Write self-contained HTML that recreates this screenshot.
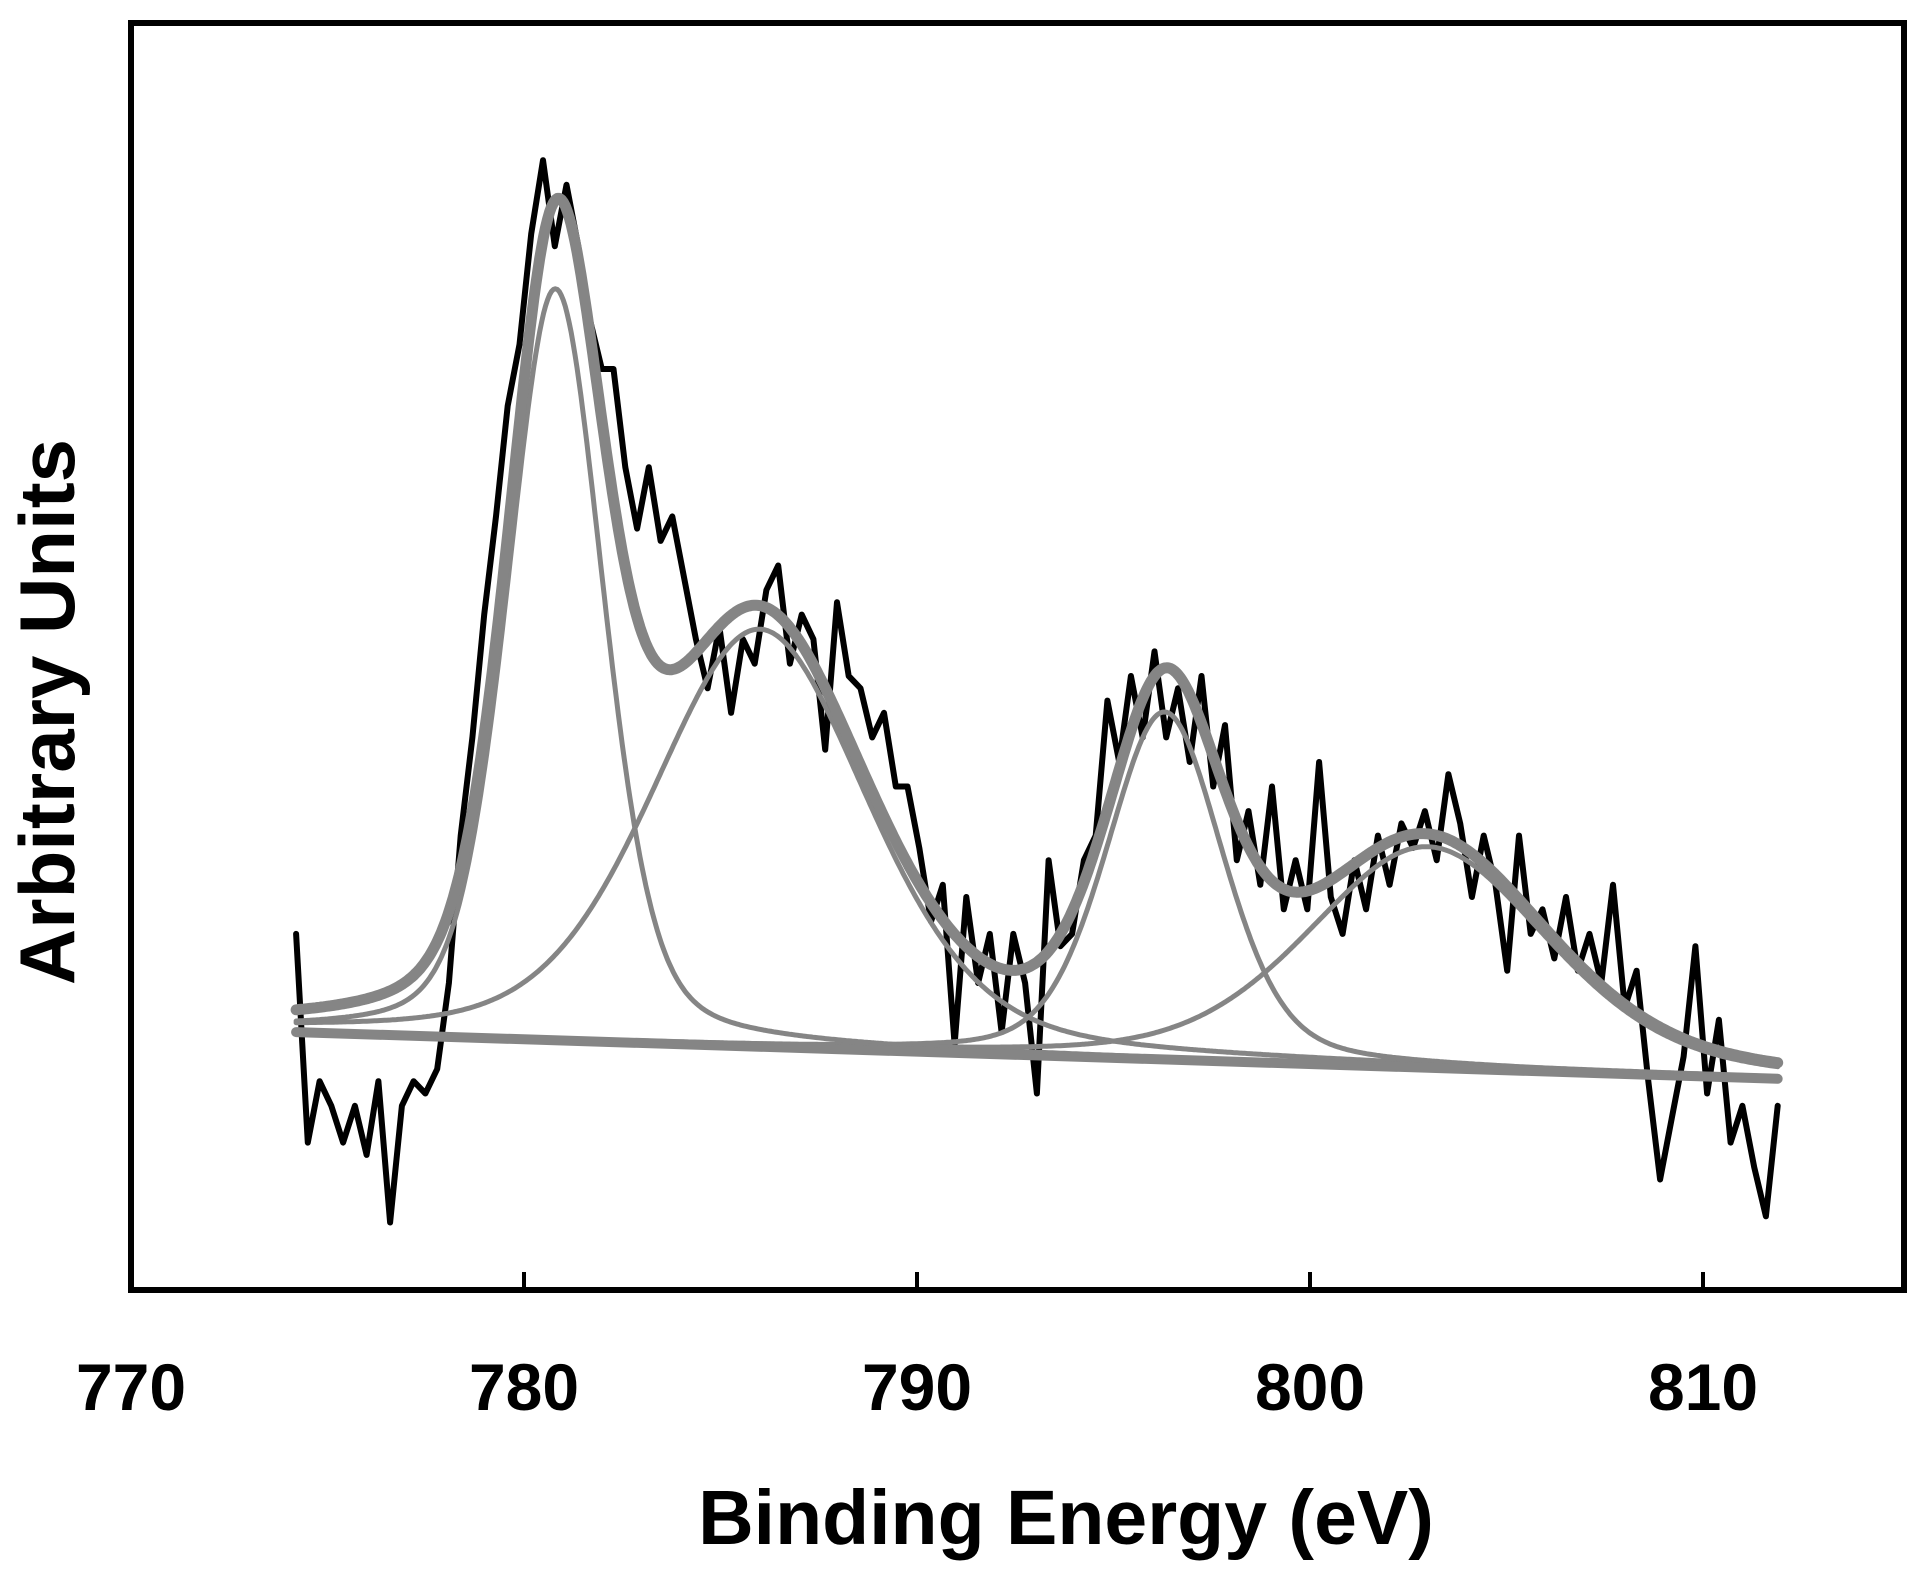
<!DOCTYPE html>
<html><head><meta charset="utf-8"><style>
html,body{margin:0;padding:0;background:#fff;}
svg{display:block;}
text{font-family:"Liberation Sans",Arial,sans-serif;font-weight:bold;fill:#000;}
</style></head><body>
<svg id="chart" width="1926" height="1574" viewBox="0 0 1926 1574" xmlns="http://www.w3.org/2000/svg">
<rect x="131" y="23" width="1773" height="1267" fill="none" stroke="#000" stroke-width="6"/>
<g id="ticks"></g>
<g id="marks"></g>
<text x="1066" y="1544" font-size="77" text-anchor="middle">Binding Energy (eV)</text>
<text transform="translate(74,712) rotate(-90)" font-size="78" text-anchor="middle">Arbitrary Units</text>
</svg>
<script>
const xTicks = [770, 780, 790, 800, 810];
const dataStart = 774.2, dataEnd = 811.9;
const intensity = [290,120,170,150,120,150,110,170,55,150,170,160,180,250,370,450,550,630,720,770,860,920,850,900,850,790,750,750,670,620,670,610,630,580,530,490,540,470,530,510,570,590,510,550,530,440,560,500,490,450,470,410,410,360,300,330,200,320,250,290,210,290,250,160,350,280,290,350,370,480,430,500,450,520,450,490,430,500,410,460,350,390,330,410,310,350,310,430,320,290,350,310,370,330,380,360,390,350,420,380,320,370,330,260,370,290,310,270,320,260,290,250,330,230,260,170,90,140,190,280,160,220,120,150,100,60,150];
const baseStart = 210, baseEnd = 172;
const peakCenters = [780.8, 786.0, 796.3, 803.0];
const peakHeights = [612, 340, 283, 180];
const peakFwhm = [2.9, 6.5, 3.5, 7.2];

const NS = "http://www.w3.org/2000/svg";
const xPx = e => 131 + (e - 770) * 39.3;
const yPx = v => 1290 - v * 1.228;
const baseline = e => baseStart + (baseEnd - baseStart) * (e - dataStart) / (dataEnd - dataStart);
function peak(i, e){
  const w = peakFwhm[i] / 2, d = (e - peakCenters[i]) / w;
  const g = Math.exp(-Math.LN2 * d * d), l = 1 / (1 + d * d);
  return peakHeights[i] * (0.68 * g + 0.32 * l);
}
const ticks = document.getElementById('ticks');
const marks = document.getElementById('marks');
xTicks.forEach(t => {
  const x = xPx(t);
  if (t > 770) {
    const ln = document.createElementNS(NS, 'line');
    
    
    ln.setAttribute('x1', x); ln.setAttribute('x2', x);
    ln.setAttribute('y1', 1290); ln.setAttribute('y2', 1272);
    ln.setAttribute('stroke', '#000'); ln.setAttribute('stroke-width', 4);
    ticks.appendChild(ln);
  }
  const tx = document.createElementNS(NS, 'text');
  
  
  tx.setAttribute('x', x); tx.setAttribute('y', 1410);
  tx.setAttribute('font-size', 66); tx.setAttribute('text-anchor', 'middle');
  tx.textContent = t;
  ticks.appendChild(tx);
});
function addPath(d, name, color, w){
  const p = document.createElementNS(NS, 'path');
  
  
  p.setAttribute('d', d); p.setAttribute('fill', 'none');
  p.setAttribute('stroke', color); p.setAttribute('stroke-width', w);
  p.setAttribute('stroke-linejoin', 'round'); p.setAttribute('stroke-linecap', 'round');
  marks.appendChild(p);
}
const n = intensity.length;
let d = '';
intensity.forEach((v, i) => {
  const e = dataStart + (dataEnd - dataStart) * i / (n - 1);
  d += (i ? 'L' : 'M') + xPx(e).toFixed(1) + ' ' + yPx(v).toFixed(1);
});
addPath(d, 'measured-spectrum', '#000', 6);
const grid = [];
for (let e = dataStart; e <= dataEnd + 1e-9; e += 0.05) grid.push(e);
peakCenters.forEach((c, i) => {
  let s = '';
  grid.forEach((e, k) => { s += (k ? 'L' : 'M') + xPx(e).toFixed(1) + ' ' + yPx(baseline(e) + peak(i, e)).toFixed(1); });
  addPath(s, 'fit-component-' + (i + 1), '#858585', 5);
});
addPath('M' + xPx(dataStart) + ' ' + yPx(baseStart) + 'L' + xPx(dataEnd) + ' ' + yPx(baseEnd), 'baseline', '#858585', 10);
let env = '';
grid.forEach((e, k) => {
  let v = baseline(e);
  for (let i = 0; i < peakCenters.length; i++) v += peak(i, e);
  env += (k ? 'L' : 'M') + xPx(e).toFixed(1) + ' ' + yPx(v).toFixed(1);
});
addPath(env, 'fit-envelope', '#858585', 11);
</script>
</body></html>
